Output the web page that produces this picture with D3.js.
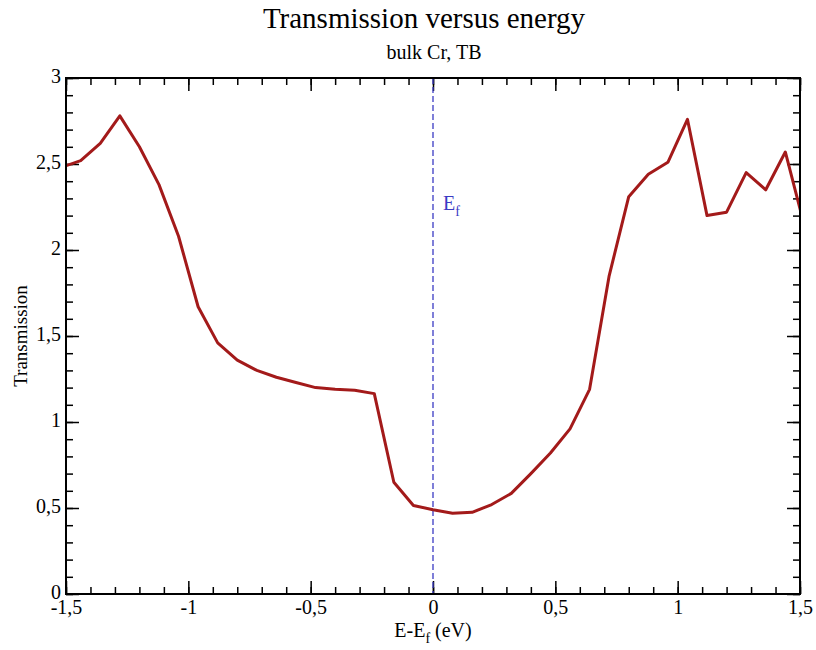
<!DOCTYPE html>
<html>
<head>
<meta charset="utf-8">
<script src="https://cdn.jsdelivr.net/npm/d3@7"></script>
<style>
  body { margin: 0; background: #fff; }
</style>
</head>
<body>
<div id="chart"></div>
<script>
// data
const energy = [-1.52, -1.44, -1.36, -1.28, -1.20, -1.12, -1.04, -0.96, -0.88, -0.80, -0.72, -0.64,
  -0.56, -0.48, -0.40, -0.32, -0.24, -0.16, -0.08, 0.00, 0.08, 0.16, 0.24, 0.32, 0.40, 0.48,
  0.56, 0.64, 0.72, 0.80, 0.88, 0.96, 1.04, 1.12, 1.20, 1.28, 1.36, 1.44, 1.52];
const transmission = [2.48, 2.52, 2.62, 2.78, 2.60, 2.38, 2.08, 1.67, 1.46, 1.36, 1.30, 1.26,
  1.23, 1.20, 1.19, 1.185, 1.165, 0.65, 0.515, 0.49, 0.47, 0.475, 0.52, 0.585, 0.70, 0.82,
  0.96, 1.19, 1.85, 2.31, 2.44, 2.51, 2.76, 2.20, 2.22, 2.45, 2.35, 2.57, 2.13];
const xTicks = [-1.5, -1, -0.5, 0, 0.5, 1, 1.5];
const yTicks = [0, 0.5, 1, 1.5, 2, 2.5, 3];
const fermiEnergy = 0;

const width = 816, height = 650;
const margin = { left: 66, top: 78, right: 16, bottom: 56 };
const plotW = width - margin.left - margin.right;
const plotH = height - margin.top - margin.bottom;
const fmt = d => String(d).replace('.', ',');
const serif = '"Liberation Serif", "DejaVu Serif", serif';

const svg = d3.select('#chart').append('svg')
  .attr('width', width)
  .attr('height', height)
  .attr('font-family', serif);

const x = d3.scaleLinear().domain([-1.5, 1.5]).range([0, plotW]);
const y = d3.scaleLinear().domain([0, 3]).range([plotH, 0]);

const g = svg.append('g').attr('transform', `translate(${margin.left},${margin.top})`);

svg.append('defs').append('clipPath').attr('id', 'clip')
  .append('rect').attr('width', plotW).attr('height', plotH);

// minor ticks on all four sides, pointing inwards
const xMinor = d3.range(-1.5, 1.5001, 0.1);
const yMinor = d3.range(0, 3.0001, 0.1);
const minorLen = 7, majorLen = 13;

function addAxes() {
  g.append('g').attr('transform', `translate(0,${plotH})`)
    .call(d3.axisBottom(x).tickValues(xMinor).tickSize(-minorLen).tickFormat(''));
  g.append('g')
    .call(d3.axisTop(x).tickValues(xMinor).tickSize(-minorLen).tickFormat(''));
  g.append('g')
    .call(d3.axisLeft(y).tickValues(yMinor).tickSize(-minorLen).tickFormat(''));
  g.append('g').attr('transform', `translate(${plotW},0)`)
    .call(d3.axisRight(y).tickValues(yMinor).tickSize(-minorLen).tickFormat(''));

  const bottom = g.append('g').attr('transform', `translate(0,${plotH})`)
    .call(d3.axisBottom(x).tickValues(xTicks).tickSize(-majorLen).tickPadding(6).tickFormat(fmt));
  g.append('g')
    .call(d3.axisTop(x).tickValues(xTicks).tickSize(-majorLen).tickFormat(''));
  const left = g.append('g')
    .call(d3.axisLeft(y).tickValues(yTicks).tickSize(-majorLen).tickPadding(5).tickFormat(fmt));
  g.append('g').attr('transform', `translate(${plotW},0)`)
    .call(d3.axisRight(y).tickValues(yTicks).tickSize(-majorLen).tickFormat(''));

  g.selectAll('g').attr('font-family', serif);
  bottom.selectAll('text').attr('font-size', 20).attr('fill', '#000');
  left.selectAll('text').attr('font-size', 20).attr('fill', '#000').attr('dy', '0.2em');
  g.selectAll('.domain').remove();
  g.selectAll('.tick line').attr('stroke', '#000').attr('stroke-width', 1.5);
}
addAxes();

// fermi level
g.append('line')
  .attr('x1', x(fermiEnergy)).attr('x2', x(fermiEnergy))
  .attr('y1', 0).attr('y2', plotH)
  .attr('stroke', '#3b3bc4')
  .attr('stroke-width', 1.3)
  .attr('stroke-dasharray', '6,3');

const ef = g.append('text')
  .attr('x', x(fermiEnergy) + 10)
  .attr('y', 132)
  .attr('fill', '#3b3bc4')
  .attr('font-size', 20);
ef.append('tspan').text('E');
ef.append('tspan').attr('dy', 6).attr('font-size', 14).text('f');

// transmission curve
const pts = energy.map((e, i) => [e, transmission[i]]);
g.append('path')
  .datum(pts)
  .attr('clip-path', 'url(#clip)')
  .attr('fill', 'none')
  .attr('stroke', '#a31a1a')
  .attr('stroke-width', 3)
  .attr('stroke-linejoin', 'round')
  .attr('d', d3.line().x(d => x(d[0])).y(d => y(d[1])));

// frame
g.append('rect')
  .attr('width', plotW).attr('height', plotH)
  .attr('fill', 'none')
  .attr('stroke', '#000')
  .attr('stroke-width', 2);

// titles
svg.append('text')
  .attr('x', 424).attr('y', 28)
  .attr('text-anchor', 'middle')
  .attr('font-size', 29)
  .text('Transmission versus energy');
svg.append('text')
  .attr('x', 434).attr('y', 59)
  .attr('text-anchor', 'middle')
  .attr('font-size', 20)
  .text('bulk Cr, TB');

const xl = svg.append('text')
  .attr('x', margin.left + x(0))
  .attr('y', 637)
  .attr('text-anchor', 'middle')
  .attr('font-size', 20);
xl.append('tspan').text('E-E');
xl.append('tspan').attr('dy', 6).attr('font-size', 14).text('f');
xl.append('tspan').attr('dy', -6).text(' (eV)');

svg.append('text')
  .attr('transform', `translate(27,${margin.top + plotH / 2}) rotate(-90)`)
  .attr('text-anchor', 'middle')
  .attr('font-size', 19)
  .text('Transmission');
</script>
</body>
</html>
